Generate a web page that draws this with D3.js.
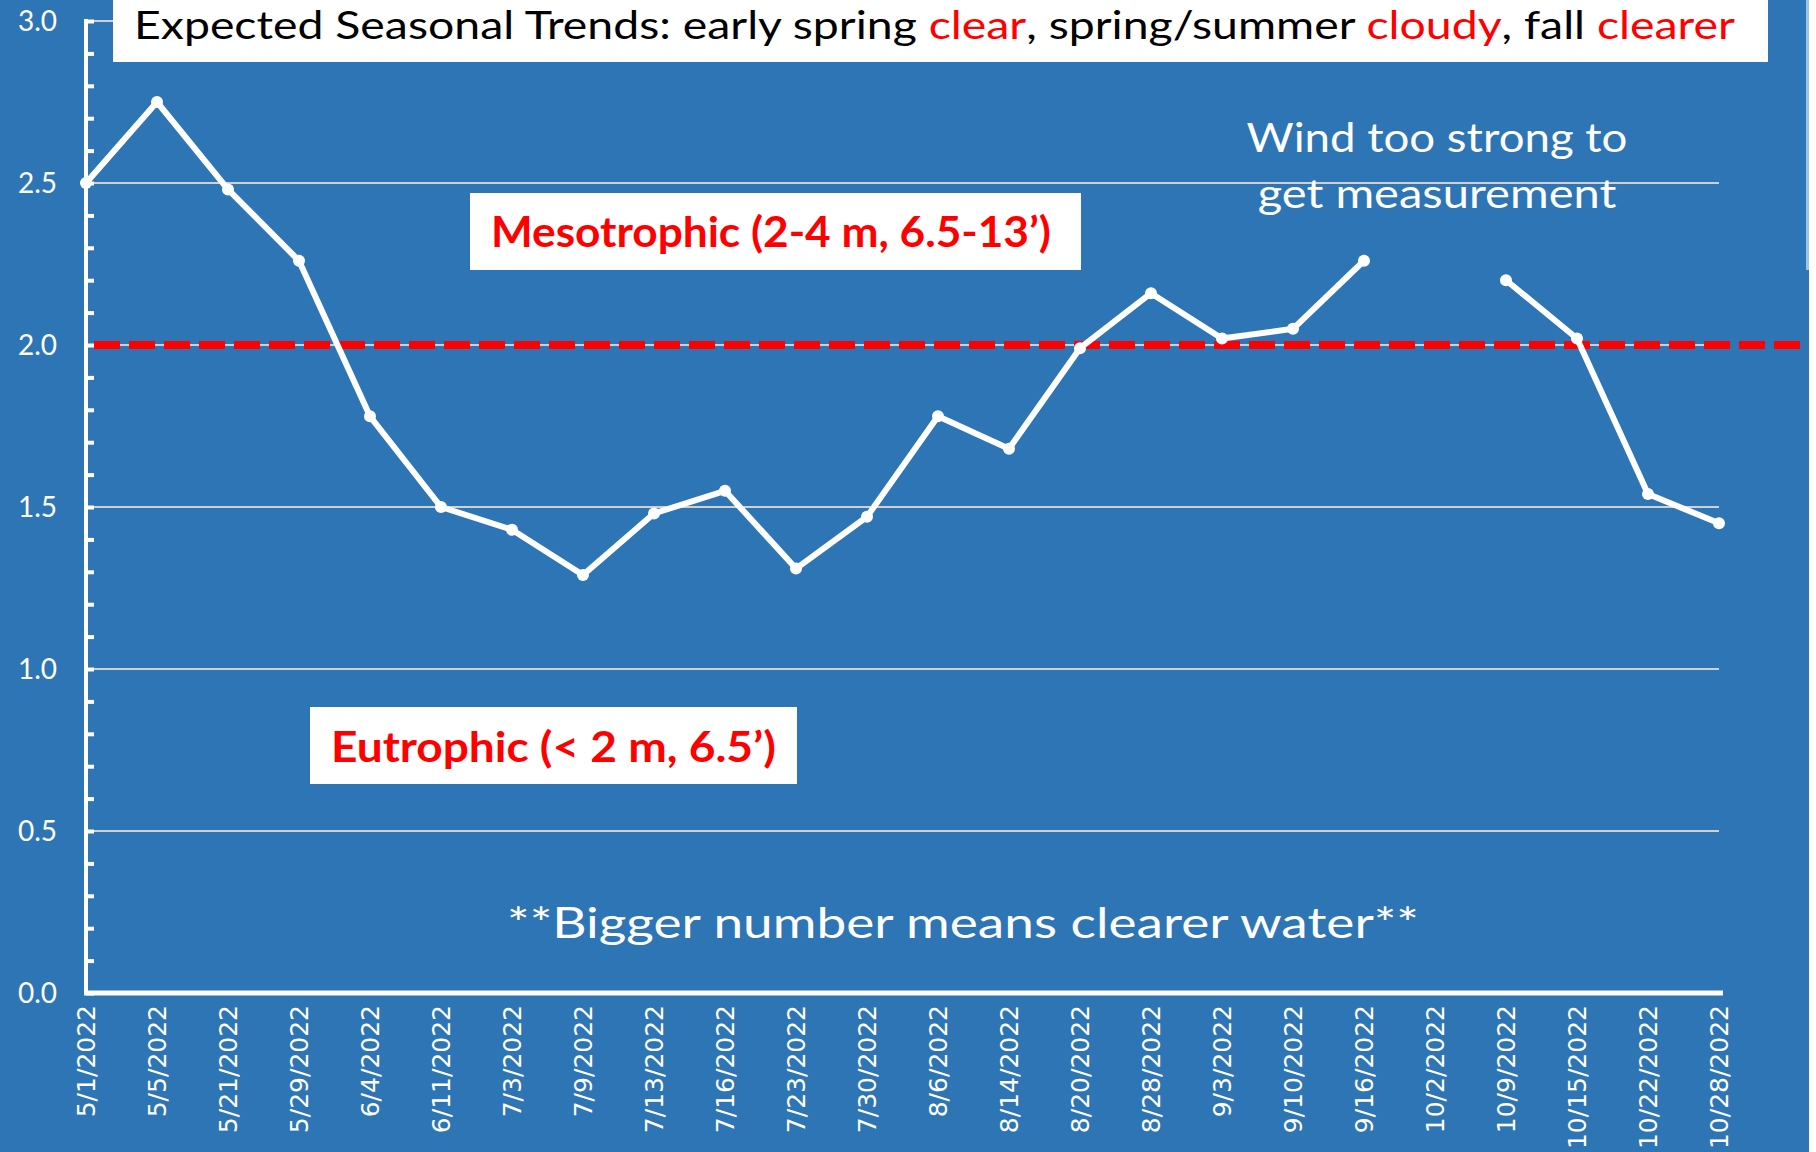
<!DOCTYPE html>
<html>
<head>
<meta charset="utf-8">
<script src="https://cdn.jsdelivr.net/npm/d3@7"></script>
<style>
  html, body { margin: 0; padding: 0; background: #2E75B6; overflow: hidden; }
  svg { display: block; }
</style>
</head>
<body>
<div id="frame"></div>
<script>
// Secchi depth (m) by sample date; 10/2 missing (too windy)
const dates = ["5/1/2022", "5/5/2022", "5/21/2022", "5/29/2022", "6/4/2022", "6/11/2022",
  "7/3/2022", "7/9/2022", "7/13/2022", "7/16/2022", "7/23/2022", "7/30/2022",
  "8/6/2022", "8/14/2022", "8/20/2022", "8/28/2022", "9/3/2022", "9/10/2022",
  "9/16/2022", "10/2/2022", "10/9/2022", "10/15/2022", "10/22/2022", "10/28/2022"];
const depth = [2.50, 2.75, 2.48, 2.26, 1.78, 1.50,
  1.43, 1.29, 1.48, 1.55, 1.31, 1.47,
  1.78, 1.68, 1.99, 2.16, 2.02, 2.05,
  2.26, null, 2.20, 2.02, 1.54, 1.45];
const yTicks = [0, 0.5, 1.0, 1.5, 2.0, 2.5, 3.0];
const minorStep = 0.1;
const threshold = 2.0;

const titleParts = [
  ["Expected Seasonal Trends: early spring ", false],
  ["clear", true],
  [", spring/summer ", false],
  ["cloudy", true],
  [", fall ", false],
  ["clearer", true]
];
const mesoLabel = "Mesotrophic (2-4 m, 6.5-13\u2019)";
const eutroLabel = "Eutrophic (< 2 m, 6.5\u2019)";
const windLines = ["Wind too strong to", "get measurement"];
const noteLabel = "**Bigger number means clearer water**";

const width = 1816, height = 1152;
const blue = "#2E75B6", red = "#FF0000", grid = "#D0D0D0";
const mainFont = "Lato, 'Open Sans', sans-serif";

const svg = d3.select("#frame").append("svg")
  .attr("width", width).attr("height", height);

svg.append("rect").attr("width", width).attr("height", height).attr("fill", blue);

const x = d3.scalePoint().domain(dates).range([86, 1719]);
const y = d3.scaleLinear().domain([0, 3]).range([993, 21]);

// gridlines
svg.append("g").selectAll("line").data(yTicks.filter(d => d > 0)).join("line")
  .attr("x1", x.range()[0]).attr("x2", x.range()[1])
  .attr("y1", d => y(d)).attr("y2", d => y(d))
  .attr("stroke", grid).attr("stroke-width", 2);

// y axis with inner ticks
const minorTicks = d3.range(0, 3 + 1e-9, minorStep);
const yAxis = svg.append("g").attr("transform", `translate(${x.range()[0]},0)`)
  .call(d3.axisRight(y).tickValues(minorTicks).tickSize(8).tickFormat(""));
yAxis.select(".domain").remove();
yAxis.selectAll(".tick line").attr("stroke", "#fff").attr("stroke-width", 4);
svg.append("line")
  .attr("x1", x.range()[0]).attr("x2", x.range()[0])
  .attr("y1", y(3) - 2).attr("y2", y(0) + 2)
  .attr("stroke", "#fff").attr("stroke-width", 4);

svg.append("g").selectAll("text").data(yTicks).join("text")
  .attr("x", 57).attr("y", d => y(d)).attr("dy", "0.36em")
  .attr("text-anchor", "end").attr("fill", "#fff")
  .style("font-family", mainFont).style("font-size", "28px")
  .text(d => d3.format(".1f")(d));

// x axis
svg.append("line")
  .attr("x1", x.range()[0] - 2).attr("x2", x.range()[1] + 4)
  .attr("y1", y(0)).attr("y2", y(0))
  .attr("stroke", "#fff").attr("stroke-width", 5);

svg.append("g").selectAll("text").data(dates).join("text")
  .attr("transform", d => `translate(${x(d)},1005) rotate(-90)`)
  .attr("dy", "0.36em")
  .attr("text-anchor", "end").attr("fill", "#fff")
  .style("font-family", "'DejaVu Sans', sans-serif").style("font-size", "25px")
  .text(d => d);

// threshold
svg.append("line")
  .attr("x1", x.range()[0] + 8).attr("x2", width - 8)
  .attr("y1", y(threshold)).attr("y2", y(threshold))
  .attr("stroke", red).attr("stroke-width", 8)
  .attr("stroke-dasharray", "26 9");

// series
const pts = dates.map((d, i) => ({ d, v: depth[i] }));
svg.append("path").datum(pts)
  .attr("fill", "none").attr("stroke", "#fff").attr("stroke-width", 6)
  .attr("stroke-linejoin", "round")
  .attr("d", d3.line().defined(p => p.v != null).x(p => x(p.d)).y(p => y(p.v)));
svg.append("g").selectAll("circle").data(pts.filter(p => p.v != null)).join("circle")
  .attr("cx", p => x(p.d)).attr("cy", p => y(p.v)).attr("r", 6).attr("fill", "#fff");

// fit a text to a target width by horizontal scaling
function fit(g, w) {
  const t = g.select("text");
  const bw = t.node().getBBox().width;
  t.attr("transform", `scale(${w / bw},1)`);
}

// title box
svg.append("rect").attr("x", 113).attr("y", 0).attr("width", 1655).attr("height", 62).attr("fill", "#fff");
const tg = svg.append("g").attr("transform", "translate(134,39)");
const tt = tg.append("text").style("font-family", mainFont).style("font-size", "38px");
tt.selectAll("tspan").data(titleParts).join("tspan")
  .attr("fill", d => d[1] ? red : "#000").text(d => d[0]);
fit(tg, 1598);

// trophic labels
function boxLabel(bx, by, bw, bh, tx, ty, tw, label) {
  svg.append("rect").attr("x", bx).attr("y", by).attr("width", bw).attr("height", bh).attr("fill", "#fff");
  const g = svg.append("g").attr("transform", `translate(${tx},${ty})`);
  g.append("text").attr("fill", red)
    .style("font-family", mainFont).style("font-size", "42px").style("font-weight", 700)
    .text(label);
  fit(g, tw);
}
boxLabel(470, 193, 611, 77, 491, 247, 560, mesoLabel);
boxLabel(310, 707, 487, 77, 331, 762, 445, eutroLabel);

// wind note
windLines.forEach((line, i) => {
  const g = svg.append("g").attr("transform", `translate(1437,${152 + i * 56})`);
  g.append("text").attr("text-anchor", "middle").attr("fill", "#fff")
    .style("font-family", mainFont).style("font-size", "41px").text(line);
  fit(g, i === 0 ? 381 : 359);
});

// bottom note
const ng = svg.append("g").attr("transform", "translate(963,938)");
ng.append("text").attr("text-anchor", "middle").attr("fill", "#fff")
  .style("font-family", mainFont).style("font-size", "42px").text(noteLabel);
fit(ng, 912);

// slide edge
svg.append("rect").attr("x", 1806).attr("y", 0).attr("width", 3).attr("height", 270).attr("fill", "#9DC3E6");
svg.append("rect").attr("x", 1809).attr("y", 0).attr("width", 7).attr("height", height).attr("fill", "#fff");
</script>
</body>
</html>
